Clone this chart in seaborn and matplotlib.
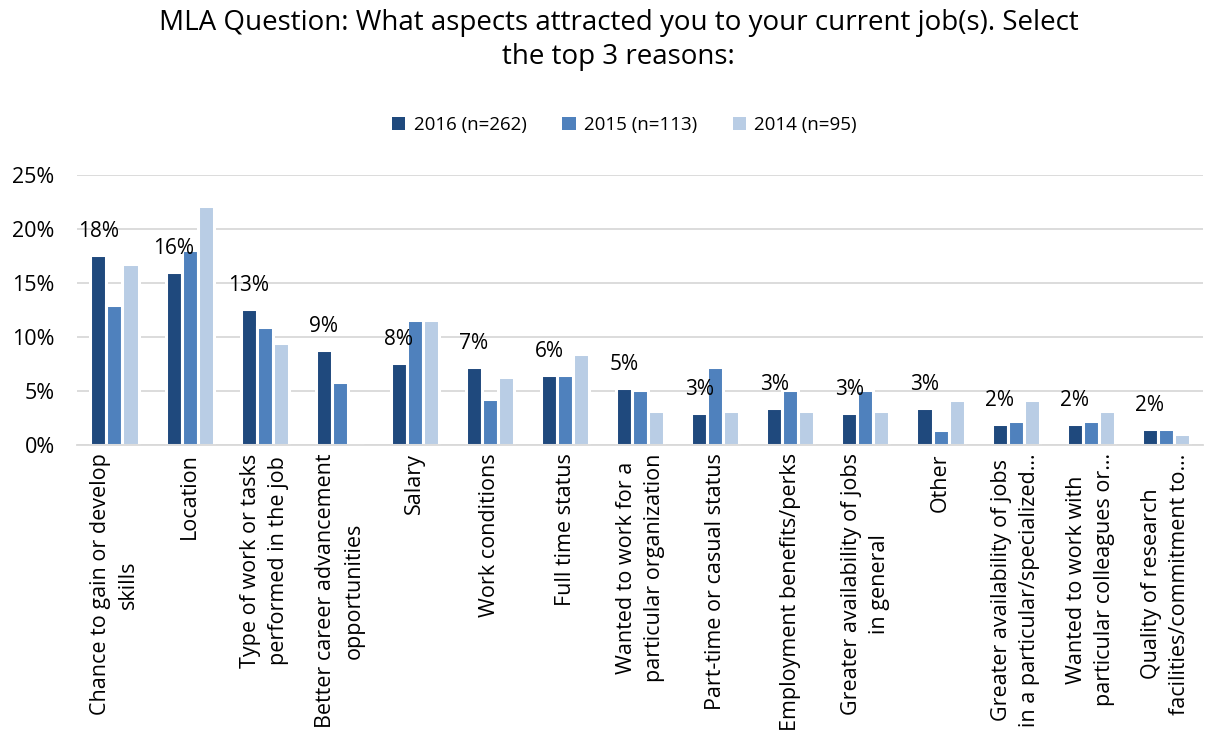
import matplotlib
matplotlib.use("Agg")
import matplotlib.pyplot as plt
import seaborn as sns
import pandas as pd
from matplotlib.patches import Patch
from matplotlib.ticker import PercentFormatter

categories = [
    "Chance to gain or develop\nskills",
    "Location",
    "Type of work or tasks\nperformed in the job",
    "Better career advancement\nopportunities",
    "Salary",
    "Work conditions",
    "Full time status",
    "Wanted to work for a\nparticular organization",
    "Part-time or casual status",
    "Employment benefits/perks",
    "Greater availability of jobs\nin general",
    "Other",
    "Greater availability of jobs\nin a particular/specialized…",
    "Wanted to work with\nparticular colleagues or…",
    "Quality of research\nfacilities/commitment to…",
]
series_names = ["2016 (n=262)", "2015 (n=113)", "2014 (n=95)"]
v2016 = [17.6, 16.0, 12.6, 8.8, 7.6, 7.2, 6.45, 5.3, 3.0, 3.4, 3.0, 3.4, 1.9, 1.9, 1.5]
v2015 = [13.0, 18.1, 10.9, 5.8, 11.6, 4.3, 6.5, 5.1, 7.2, 5.1, 5.1, 1.4, 2.2, 2.2, 1.45]
v2014 = [16.8, 22.1, 9.4, 0.0, 11.6, 6.3, 8.4, 3.15, 3.15, 3.15, 3.15, 4.2, 4.2, 3.15, 1.05]
colors = ["#1F497D", "#4F81BD", "#B9CDE5"]

rows = []
for name, vals in zip(series_names, [v2016, v2015, v2014]):
    for c, v in zip(categories, vals):
        rows.append({"category": c, "series": name, "value": v})
df = pd.DataFrame(rows)

sns.set_style("white")
plt.rcParams["font.family"] = ["Open Sans", "DejaVu Sans"]
plt.rcParams["text.color"] = "#000000"
plt.rcParams["xtick.color"] = "#000000"
plt.rcParams["ytick.color"] = "#000000"

fig = plt.figure(figsize=(12.06, 7.30), dpi=100)
ax = fig.add_axes([0.0638, 0.3904, 0.934, 0.3699])

sns.barplot(data=df, x="category", y="value", hue="series",
            hue_order=series_names, order=categories, palette=colors,
            saturation=1, width=0.64, edgecolor="white", linewidth=2.2,
            ax=ax, legend=False)

ax.set_ylim(0, 25)
ax.set_yticks([0, 5, 10, 15, 20, 25])
ax.yaxis.set_major_formatter(PercentFormatter(decimals=0))
ax.grid(axis="y", color="#D9D9D9", linewidth=1.3)
ax.set_axisbelow(True)
for s in ["top", "right", "left"]:
    ax.spines[s].set_visible(False)
ax.spines["bottom"].set_color("#D9D9D9")
ax.spines["bottom"].set_linewidth(1.3)
ax.tick_params(axis="both", length=0)
ax.tick_params(axis="y", labelsize=15.5, pad=16)
ax.set_xlabel("")
ax.set_ylabel("")
ax.set_xticks(range(len(categories)))
ax.set_xticklabels(categories, rotation=90, ha="center", va="top",
                   multialignment="center", fontsize=15.5, linespacing=1.45)
ax.tick_params(axis="x", pad=6)

# data labels on 2016 series
cont = ax.containers[0]
for bar, v in zip(cont, v2016):
    ax.annotate(f"{round(v):.0f}%", (bar.get_x() + bar.get_width() / 2, bar.get_height()),
                xytext=(0, 13), textcoords="offset points", ha="center",
                va="baseline", fontsize=15)

handles = [Patch(facecolor=c, edgecolor="none") for c in colors]
fig.legend(handles, series_names, loc="center", bbox_to_anchor=(0.518, 0.829),
           ncol=3, frameon=False, fontsize=13.5, handlelength=0.7,
           handleheight=0.7, handletextpad=0.45, columnspacing=1.9)

fig.suptitle("MLA Question: What aspects attracted you to your current job(s). Select\nthe top 3 reasons:",
             x=0.513, y=0.988, fontsize=20, linespacing=1.3)

fig.savefig("out.png", dpi=100, facecolor="white")
